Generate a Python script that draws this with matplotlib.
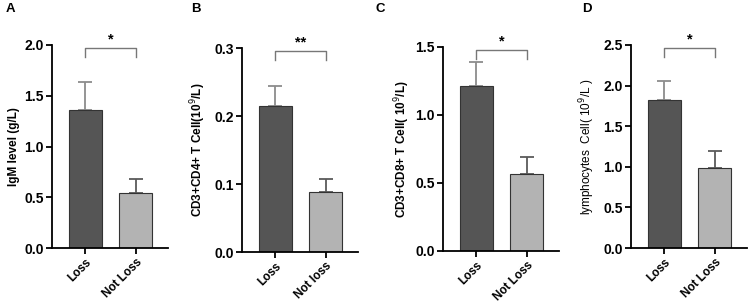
import matplotlib.pyplot as plt

plt.rcParams["font.family"] = ["Liberation Sans", "DejaVu Sans"]

# ===== DATA =====
GROUPS_A = ["Loss", "Not Loss"]
GROUPS_B = ["Loss", "Not loss"]
igm_mean = [1.36, 0.54]
igm_err = [0.28, 0.14]
cd4_mean = [0.215, 0.088]
cd4_err = [0.029, 0.019]
cd8_mean = [1.21, 0.565]
cd8_err = [0.18, 0.125]
lym_mean = [1.82, 0.99]
lym_err = [0.24, 0.20]

W, H = 748, 304
BAR_COLORS = ["#555555", "#b3b3b3"]
ERR_COLORS = ["#8c8c8c", "#5a5a5a"]

# panel: (letter, letter_x, groups, mean, err, ylim, yticks, ylabel, spine_x, y0px, ytoppx, ylabel_x, sig, ylabel_bold)
panels = [
    ("A", 6, GROUPS_A, igm_mean, igm_err, 2.0, [0, 0.5, 1.0, 1.5, 2.0], "IgM level (g/L)", 52, 248, 45, 14, "*", True),
    ("B", 191, GROUPS_B, cd4_mean, cd4_err, 0.3, [0, 0.1, 0.2, 0.3], "CD3+CD4+ T Cell(10$^9$/L)", 242, 252, 48, 198, "**", True),
    ("C", 375, GROUPS_A, cd8_mean, cd8_err, 1.5, [0, 0.5, 1.0, 1.5], "CD3+CD8+ T Cell( 10$^9$/L)", 443, 251, 47, 402, "*", True),
    ("D", 582, GROUPS_A, lym_mean, lym_err, 2.5, [0, 0.5, 1.0, 1.5, 2.0, 2.5], "lymphocytes  Cell( 10$^9$/L )", 631, 248, 45, 587, "*", False),
]

fig = plt.figure(figsize=(W / 100, H / 100), dpi=100)

XL = (-0.66, 1.64)
for letter, lx, groups, mean, err, ymax, yticks, ylabel, sx, y0, yt, ylx, sig, lbold in panels:
    ax_w = (XL[1] - XL[0]) * 50.5
    ax = fig.add_axes([sx / W, 1 - y0 / H, ax_w / W, (y0 - yt) / H])
    ax.set_xlim(*XL)
    ax.set_ylim(0, ymax)
    x = [0, 1]
    ax.bar(x, mean, width=0.65, color=BAR_COLORS, edgecolor="#333333", linewidth=0.8, zorder=2)
    for i in x:
        ax.errorbar(i, mean[i], yerr=[[0], [err[i]]], fmt="none", ecolor=ERR_COLORS[i],
                    elinewidth=1.3, capsize=5, capthick=1.3, zorder=1)
    ax.spines["top"].set_visible(False)
    ax.spines["right"].set_visible(False)
    for s in ["left", "bottom"]:
        ax.spines[s].set_linewidth(1.3)
    ax.set_xticks(x)
    ax.set_xticklabels(groups, rotation=45, ha="right", rotation_mode="anchor",
                       fontsize=8.5, fontweight="bold")
    ax.set_yticks(yticks)
    ax.set_yticklabels([f"{t:.1f}" for t in yticks], fontsize=10, fontweight="bold")
    ax.tick_params(direction="out", length=4, width=1.3, pad=2)
    # significance bracket
    yb = ymax * 0.985
    ax.plot([0, 0, 1, 1], [yb - ymax * 0.045, yb, yb, yb - ymax * 0.045],
            color="#777777", lw=1.0, clip_on=False)
    ax.text(0.5, yb + ymax * 0.01, sig, ha="center", va="bottom", fontsize=10.5, fontweight="bold")
    fig.text(ylx / W, 1 - (y0 + yt) / 2 / H, ylabel, rotation=90, ha="center", va="center",
             fontsize=8.5, fontweight="bold" if lbold else "normal")
    fig.text(lx / W, 1 - 9 / H, letter, ha="left", va="center", fontsize=9.5, fontweight="bold")

fig.savefig("out.png", dpi=100)
